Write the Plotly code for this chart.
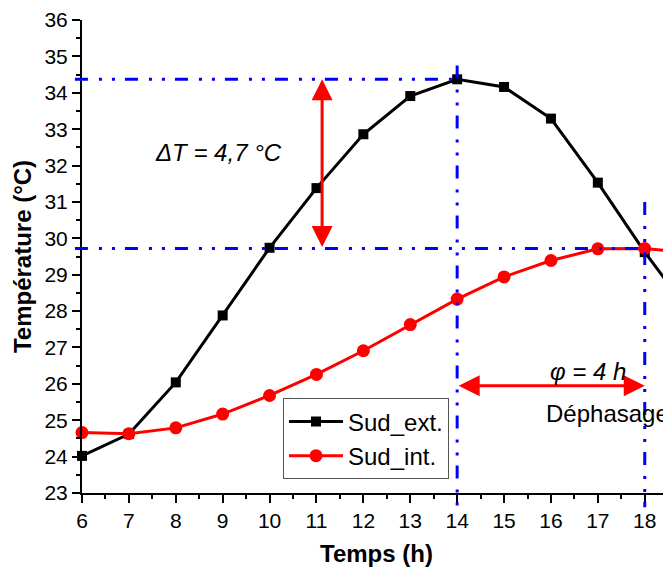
import plotly.graph_objects as go

hours = [6, 7, 8, 9, 10, 11, 12, 13, 14, 15, 16, 17, 18, 19]
sud_ext = [24.02, 24.62, 26.04, 27.88, 29.74, 31.38, 32.86, 33.91, 34.37, 34.16, 33.29, 31.53, 29.62, 27.9]
sud_int = [24.66, 24.63, 24.79, 25.17, 25.68, 26.26, 26.91, 27.63, 28.33, 28.94, 29.39, 29.71, 29.72, 29.6]

t_max_ext = 34.37
t_max_int = 29.72
t_peak_ext = 14
t_peak_int = 18
arrow_x = 11.12
arrow_y = 25.95

FONT = "Liberation Sans, Arial, sans-serif"
BLUE = "#0000ff"
DASH = "13px,11px,3px,10px,3px,10px"
XSPAN = 12.56

fig = go.Figure()
fig.add_trace(go.Scatter(x=hours, y=sud_ext, name="Sud_ext.", mode="lines+markers",
                         line=dict(color="black", width=3),
                         marker=dict(symbol="square", size=10, color="black"),
                         cliponaxis=False))
fig.add_trace(go.Scatter(x=hours, y=sud_int, name="Sud_int.", mode="lines+markers",
                         line=dict(color="red", width=3),
                         marker=dict(symbol="circle", size=13, color="red"),
                         cliponaxis=False))

# dash-dot guide lines
fig.add_shape(type="line", xref="paper", yref="y", x0=-0.012, x1=(t_peak_ext + 0.05 - 6) / XSPAN,
              y0=t_max_ext, y1=t_max_ext, line=dict(color=BLUE, width=3, dash=DASH))
fig.add_shape(type="line", xref="paper", yref="y", x0=-0.012, x1=(t_peak_int + 0.1 - 6) / XSPAN,
              y0=t_max_int, y1=t_max_int, line=dict(color=BLUE, width=3, dash=DASH))
fig.add_shape(type="line", xref="x", yref="paper", x0=t_peak_ext, x1=t_peak_ext,
              y0=(34.75 - 23) / 13, y1=-0.03, line=dict(color=BLUE, width=3, dash=DASH))
fig.add_shape(type="line", xref="x", yref="paper", x0=t_peak_int, x1=t_peak_int,
              y0=(31.0 - 23) / 13, y1=-0.03, line=dict(color=BLUE, width=3, dash=DASH))

# red double arrows
fig.add_annotation(x=arrow_x, y=t_max_ext, ax=arrow_x, ay=t_max_int, xref="x", yref="y",
                   axref="x", ayref="y", text="", showarrow=True, arrowside="end+start",
                   arrowhead=2, arrowsize=1.4, arrowwidth=3, arrowcolor="red")
fig.add_annotation(x=t_peak_int, y=arrow_y, ax=t_peak_ext, ay=arrow_y, xref="x", yref="y",
                   axref="x", ayref="y", text="", showarrow=True, arrowside="end+start",
                   arrowhead=2, arrowsize=1.4, arrowwidth=3, arrowcolor="red")

fig.add_annotation(x=8.92, y=32.37, text="<i>ΔT = 4,7 °C</i>", showarrow=False,
                   font=dict(family=FONT, size=24, color="black"))
fig.add_annotation(x=16.79, y=26.34, text="<i>φ = 4 h</i>", showarrow=False,
                   font=dict(family=FONT, size=24, color="black"))
fig.add_annotation(x=17.21, y=25.19, text="Déphasage", showarrow=False,
                   font=dict(family=FONT, size=24, color="black"))

axis_common = dict(showline=True, linecolor="black", linewidth=2, ticks="outside",
                   ticklen=8, tickwidth=2, tickcolor="black", showgrid=False, zeroline=False,
                   tickfont=dict(family=FONT, size=21, color="black"), mirror=False,
                   ticklabeloverflow="allow")

fig.update_xaxes(range=[6, 6 + XSPAN], dtick=1, tick0=6,
                 minor=dict(dtick=0.5, ticks="outside", ticklen=4, tickwidth=2, tickcolor="black"),
                 title=dict(text="<b>Temps (h)</b>", font=dict(family=FONT, size=24, color="black"), standoff=14),
                 **axis_common)
fig.update_yaxes(range=[23, 36.0001], dtick=1, tick0=23,
                 minor=dict(dtick=0.5, ticks="outside", ticklen=4, tickwidth=2, tickcolor="black"),
                 title=dict(text="<b>Température (°C)</b>", font=dict(family=FONT, size=24, color="black"), standoff=6),
                 **axis_common)

fig.update_layout(
    width=663, height=561,
    margin=dict(l=74, r=0, t=10, b=76, pad=0),
    plot_bgcolor="white", paper_bgcolor="white",
    font=dict(family=FONT, color="black"),
    legend=dict(x=(283 - 82) / 589, y=(492 - 397) / 475, xanchor="left", yanchor="top",
                bgcolor="white", bordercolor="#555555", borderwidth=1,
                font=dict(family=FONT, size=24, color="black"),
                tracegroupgap=0, itemwidth=54),
)

fig.write_html("out.html")
